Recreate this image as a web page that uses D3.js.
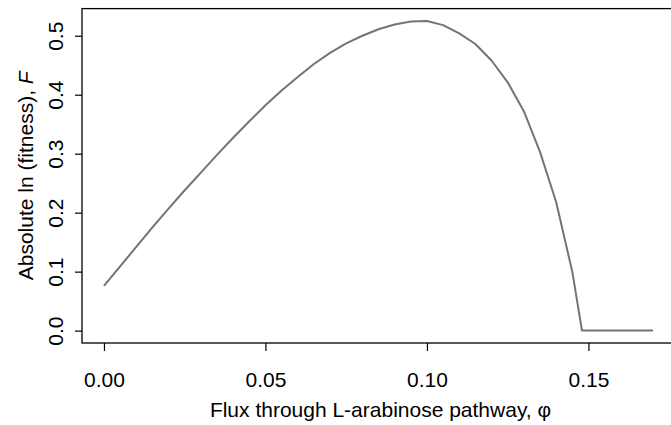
<!DOCTYPE html>
<html>
<head>
<meta charset="utf-8">
<script src="https://cdn.jsdelivr.net/npm/d3@7"></script>
<style>
  html, body { margin: 0; padding: 0; background: #fff; }
  svg text { font-family: "Liberation Sans", Arial, Helvetica, sans-serif; fill: #000; }
</style>
</head>
<body>
<div class="chart"></div>
<script>
// flux through the pathway (phi) and absolute ln fitness F
const flux = [0.000, 0.005, 0.010, 0.015, 0.020, 0.025, 0.030, 0.035, 0.040, 0.045,
              0.050, 0.055, 0.060, 0.065, 0.070, 0.075, 0.080, 0.085, 0.090, 0.095,
              0.100, 0.105, 0.110, 0.115, 0.120, 0.125, 0.130, 0.135, 0.140, 0.145,
              0.148, 0.150, 0.155, 0.160, 0.165, 0.170];
const fitness = [0.076, 0.109, 0.142, 0.175, 0.207, 0.238, 0.268, 0.298, 0.327, 0.355,
                 0.382, 0.407, 0.430, 0.452, 0.471, 0.487, 0.500, 0.511, 0.519, 0.524,
                 0.525, 0.518, 0.504, 0.486, 0.458, 0.421, 0.372, 0.303, 0.218, 0.100,
                 0.000, 0.000, 0.000, 0.000, 0.000, 0.000];
const xTicks = [0.00, 0.05, 0.10, 0.15];
const yTicks = [0.0, 0.1, 0.2, 0.3, 0.4, 0.5];

const width = 671, height = 425;
const plotLeft = 82, plotRight = 675, plotTop = 8.6, plotBottom = 343;
const fontSize = 21;

// R style 4% padding on both axes
const xExt = d3.extent(flux), yExt = d3.extent(fitness);
const xPad = (xExt[1] - xExt[0]) * 0.04, yPad = (yExt[1] - yExt[0]) * 0.04;

const xScale = d3.scaleLinear()
    .domain([xExt[0] - xPad, xExt[1] + xPad])
    .range([plotLeft, plotRight]);
const yScale = d3.scaleLinear()
    .domain([yExt[0] - yPad, yExt[1] + yPad])
    .range([plotBottom, plotTop]);

const svg = d3.select('.chart')
  .append('svg')
  .attr('width', width)
  .attr('height', height);

// plot box (right edge falls just off the picture)
svg.append('rect')
  .attr('x', plotLeft)
  .attr('y', plotTop)
  .attr('width', plotRight - plotLeft)
  .attr('height', plotBottom - plotTop)
  .attr('fill', 'none')
  .attr('stroke', '#000')
  .attr('stroke-width', 1.3);

// x axis
const xAxis = d3.axisBottom(xScale)
  .tickValues(xTicks)
  .tickSize(8)
  .tickPadding(21)
  .tickFormat(d3.format('.2f'));
const gx = svg.append('g')
  .attr('transform', 'translate(0,' + plotBottom + ')')
  .call(xAxis);
gx.select('.domain').remove();
gx.selectAll('line').attr('stroke', '#000').attr('stroke-width', 1.2);
gx.selectAll('text').attr('font-size', fontSize).attr('fill', '#000');

// y axis, labels turned like R's default
const yAxis = d3.axisLeft(yScale)
  .tickValues(yTicks)
  .tickSize(7)
  .tickFormat(d3.format('.1f'));
const gy = svg.append('g')
  .attr('transform', 'translate(' + plotLeft + ',0)')
  .call(yAxis);
gy.select('.domain').remove();
gy.selectAll('line').attr('stroke', '#000').attr('stroke-width', 1.2);
gy.selectAll('text')
  .attr('font-size', fontSize)
  .attr('fill', '#000')
  .attr('x', null)
  .attr('dy', null)
  .attr('text-anchor', 'middle')
  .attr('transform', 'translate(-19,0) rotate(-90)');

// curve
const line = d3.line()
  .x((d, i) => xScale(flux[i]))
  .y((d) => yScale(d));
svg.append('path')
  .datum(fitness)
  .attr('fill', 'none')
  .attr('stroke', '#747474')
  .attr('stroke-width', 2)
  .attr('stroke-linejoin', 'round')
  .attr('d', line);

// axis titles
svg.append('text')
  .attr('x', (plotLeft + plotRight) / 2 + 2)
  .attr('y', 417)
  .attr('text-anchor', 'middle')
  .attr('font-size', fontSize)
  .text('Flux through L-arabinose pathway, \u03c6');

const yt = svg.append('text')
  .attr('text-anchor', 'middle')
  .attr('font-size', fontSize)
  .attr('transform', 'translate(33,' + ((plotTop + plotBottom) / 2) + ') rotate(-90)');
yt.append('tspan').text('Absolute ln (fitness), ');
yt.append('tspan').attr('font-style', 'italic').text('F');
</script>
</body>
</html>
